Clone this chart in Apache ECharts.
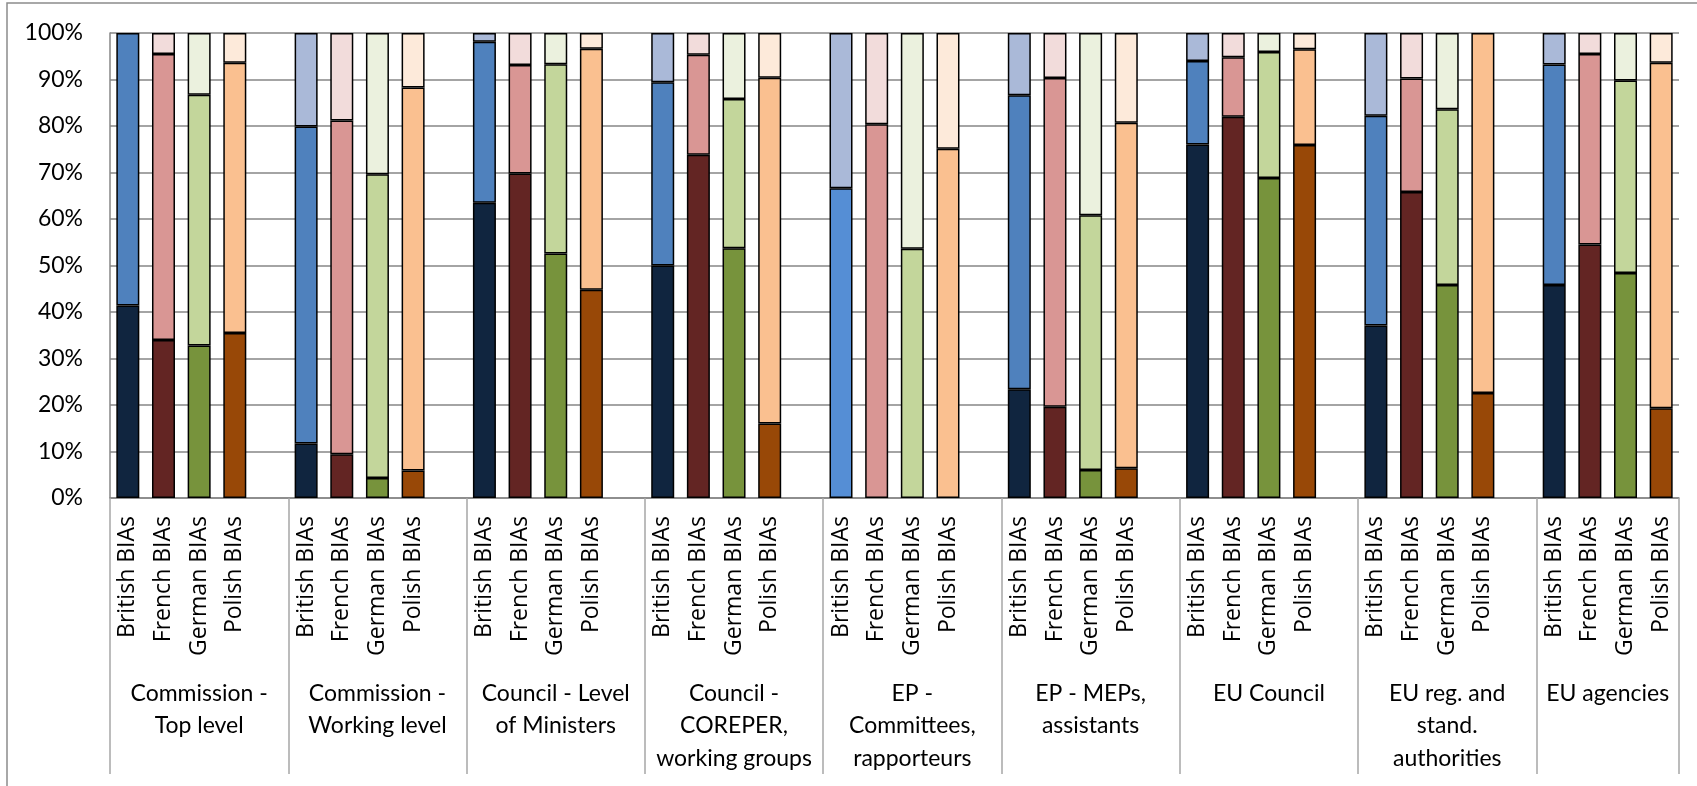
<!DOCTYPE html>
<html>
<head>
<meta charset="utf-8">
<title>BIAs by institution</title>
<script src="https://cdn.jsdelivr.net/npm/echarts@6/dist/echarts.min.js"></script>
<style>
  html, body { margin: 0; padding: 0; background: #fff; }
  #chart { width: 1697px; height: 786px; }
</style>
</head>
<body>
<div id="chart"></div>
<script>
// Institutions (outer category level)
const groups = [
  'Commission -\nTop level',
  'Commission -\nWorking level',
  'Council - Level\nof Ministers',
  'Council -\nCOREPER,\nworking groups',
  'EP -\nCommittees,\nrapporteurs',
  'EP - MEPs,\nassistants',
  'EU Council',
  'EU reg. and\nstand.\nauthorities',
  'EU agencies'
];

// Inner category level
const countries = ['British BIAs', 'French BIAs', 'German BIAs', 'Polish BIAs'];

// Shares (%) per institution: bottom, middle and top segment of each bar
const britishLow  = [41.4, 11.7, 63.5, 50.0,  0.0, 23.4, 76.0, 37.1, 45.8];
const britishMid  = [58.6, 68.2, 34.6, 39.4, 66.6, 63.2, 18.0, 45.1, 47.4];
const britishHigh = [ 0.0, 20.1,  1.9, 10.6, 33.4, 13.4,  6.0, 17.8,  6.8];

const frenchLow   = [34.0,  9.4, 69.8, 73.8,  0.0, 19.6, 82.0, 65.8, 54.5];
const frenchMid   = [61.5, 71.8, 23.3, 21.5, 80.4, 70.7, 12.8, 24.4, 41.0];
const frenchHigh  = [ 4.5, 18.8,  6.9,  4.7, 19.6,  9.7,  5.2,  9.8,  4.5];

const germanLow   = [32.8,  4.3, 52.6, 53.7,  0.0,  6.0, 68.8, 45.8, 48.4];
const germanMid   = [53.9, 65.3, 40.7, 32.1, 53.6, 54.8, 27.1, 37.8, 41.4];
const germanHigh  = [13.3, 30.4,  6.7, 14.2, 46.4, 39.2,  4.1, 16.4, 10.2];

const polishLow   = [35.5,  5.9, 44.8, 16.0,  0.0,  6.4, 75.9, 22.6, 19.3];
const polishMid   = [58.1, 82.4, 51.8, 74.4, 75.1, 74.3, 20.6, 77.4, 74.3];
const polishHigh  = [ 6.4, 11.7,  3.4,  9.6, 24.9, 19.3,  3.5,  0.0,  6.4];

const yTicks = [0, 10, 20, 30, 40, 50, 60, 70, 80, 90, 100];

// Palette: one shade triple per country (dark, medium, light)
const palette = [
  ['#10253F', '#4F81BD', '#AAB9D8'],
  ['#632523', '#D99694', '#F2DCDB'],
  ['#77933C', '#C3D69B', '#EBF1DE'],
  ['#984807', '#FAC090', '#FDEADA']
];
// the British middle segment in the EP committees group uses a brighter blue
const brightBlue = '#558ED5';

const seriesValues = [
  [britishLow, frenchLow, germanLow, polishLow],
  [britishMid, frenchMid, germanMid, polishMid],
  [britishHigh, frenchHigh, germanHigh, polishHigh]
];

// Flatten to a category axis: 4 bars per institution plus a spacer slot
const slotsPerGroup = countries.length + 1;
const categoryLabels = [];
groups.forEach((g, gi) => {
  countries.forEach(c => categoryLabels.push(c));
  if (gi < groups.length - 1) categoryLabels.push('');
});
const totalSlots = categoryLabels.length;

function buildLevel(level) {
  const out = [];
  groups.forEach((g, gi) => {
    countries.forEach((c, ci) => {
      const v = seriesValues[level][ci][gi];
      let color = palette[ci][level];
      if (level === 1 && ci === 0 && gi === 4) color = brightBlue;
      out.push(v === 0 ? null : { value: v, itemStyle: { color: color } });
    });
    if (gi < groups.length - 1) out.push(null);
  });
  return out;
}

const groupCenters = [];
const groupEdges = [0];
groups.forEach((g, gi) => {
  const start = gi * slotsPerGroup;
  const end = Math.min(start + slotsPerGroup, totalSlots);
  groupCenters.push((start + end) / 2);
  groupEdges.push(end);
});

const chart = echarts.init(document.getElementById('chart'));

const gridColor = '#868686';
const dividerColor = '#A6A6A6';

chart.setOption({
  animation: false,
  backgroundColor: '#fff',
  graphic: [{
    type: 'rect',
    shape: { x: 7, y: 3, width: 2000, height: 2000 },
    style: { fill: 'none', stroke: '#8C8C8C', lineWidth: 1.5 },
    silent: true
  }],
  grid: { left: 110, right: 18, top: 33, bottom: 288, containLabel: false },
  xAxis: [{
    type: 'category',
    data: categoryLabels,
    boundaryGap: true,
    axisLine: { show: true, lineStyle: { color: gridColor, width: 1.5 } },
    axisTick: { show: false },
    axisLabel: {
      interval: 0,
      rotate: 90,
      margin: 18,
      color: '#000',
      fontFamily: 'Open Sans',
      fontSize: 23
    }
  }, {
    type: 'value',
    position: 'bottom',
    min: 0,
    max: totalSlots,
    axisLine: { show: false },
    splitLine: { show: false },
    axisTick: {
      show: true,
      customValues: groupEdges,
      length: 276,
      lineStyle: { color: dividerColor, width: 1.5 }
    },
    axisLabel: {
      customValues: groupCenters,
      formatter: function (v) {
        const i = groupCenters.indexOf(v);
        return i >= 0 ? groups[i] : '';
      },
      margin: 179,
      color: '#000',
      fontFamily: 'Lato',
      fontSize: 23,
      lineHeight: 32.5,
      align: 'center'
    }
  }],
  yAxis: {
    type: 'value',
    min: yTicks[0],
    max: yTicks[yTicks.length - 1],
    interval: 10,
    axisLine: { show: true, lineStyle: { color: gridColor, width: 1.5 } },
    axisTick: { show: false },
    splitLine: { show: true, lineStyle: { color: gridColor, width: 1.5 } },
    axisLabel: {
      formatter: '{value}%',
      margin: 27,
      color: '#000',
      fontFamily: 'Lato',
      fontSize: 23
    }
  },
  series: [0, 1, 2].map(level => ({
    type: 'bar',
    stack: 'share',
    xAxisIndex: 0,
    barWidth: 23,
    itemStyle: { borderColor: '#000', borderWidth: 1.5 },
    data: buildLevel(level)
  }))
});
</script>
</body>
</html>
